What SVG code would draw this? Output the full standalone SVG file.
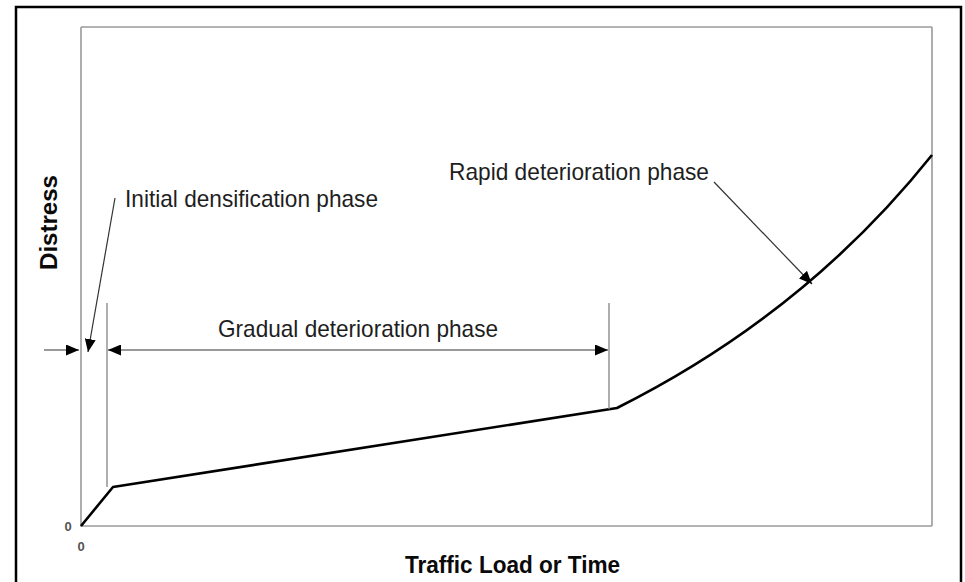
<svg xmlns="http://www.w3.org/2000/svg" width="965" height="582" viewBox="0 0 965 582">
  <style>
    .frame { fill: none; stroke: #000; stroke-width: 2.5; }
    .axis { fill: none; stroke: #9a9a9a; stroke-width: 1.6; }
    .guide { fill: none; stroke: #8c8c8c; stroke-width: 1.4; }
    .curve { fill: none; stroke: #000; stroke-width: 2.6; stroke-linejoin: round; }
    .leader { fill: none; stroke: #333; stroke-width: 1.2; }
    .dim { fill: none; stroke: #777; stroke-width: 1.6; }
    .label { font-family: "Liberation Sans", Arial, sans-serif; font-size: 23.8px; fill: #1e1e1e; }
    .title { font-family: "Liberation Sans", Arial, sans-serif; font-size: 24px; font-weight: bold; fill: #0a0a0a; }
    .tick { font-family: "Liberation Sans", Arial, sans-serif; font-size: 13px; font-weight: bold; fill: #555; }
  </style>
  <defs>
    <marker id="head" viewBox="0 0 13 11" refX="13" refY="5.5" markerWidth="13" markerHeight="11" markerUnits="userSpaceOnUse" orient="auto">
      <path d="M0,0 L13,5.5 L0,11 Z" fill="#000"/>
    </marker>
  </defs>

  <rect width="965" height="582" fill="#fff"/>

  <!-- outer border -->
  <rect class="frame" x="16" y="7" width="945" height="590"/>

  <!-- plot frame and axes -->
  <g id="axes">
    <path class="axis" d="M81,27 L932,27 M932,27 L932,526 M81,27 L81,526 L932,526"/>
    <text class="tick" x="68" y="531" text-anchor="middle">0</text>
    <text class="tick" x="81" y="551" text-anchor="middle">0</text>
  </g>

  <!-- distress curve -->
  <g id="distress-curve">
    <path class="curve" d="M81,526 L113,487 L617,408 Q805,314 932,155"/>
  </g>

  <!-- phase boundaries -->
  <g id="boundaries">
    <line class="guide" x1="107" y1="303" x2="107" y2="487"/>
    <line class="guide" x1="609" y1="303" x2="609" y2="409"/>
  </g>

  <!-- dimension arrows and leaders -->
  <g id="connectors">
    <line class="dim" x1="44" y1="350" x2="79" y2="350" marker-end="url(#head)"/>
    <line class="dim" x1="358" y1="350" x2="108" y2="350" marker-end="url(#head)"/>
    <line class="dim" x1="358" y1="350" x2="608" y2="350" marker-end="url(#head)"/>
    <line class="leader" x1="115" y1="198" x2="88" y2="352" marker-end="url(#head)"/>
    <line class="leader" x1="714" y1="182" x2="812" y2="284" marker-end="url(#head)"/>
  </g>

  <!-- labels -->
  <g id="label-initial">
    <text class="label" x="125" y="207" textLength="253" lengthAdjust="spacingAndGlyphs">Initial densification phase</text>
  </g>
  <g id="label-gradual">
    <text class="label" x="218" y="337" textLength="280" lengthAdjust="spacingAndGlyphs">Gradual deterioration phase</text>
  </g>
  <g id="label-rapid">
    <text class="label" x="449" y="180" textLength="260" lengthAdjust="spacingAndGlyphs">Rapid deterioration phase</text>
  </g>
  <g id="axis-titles">
    <text class="title" transform="translate(56.5,222.5) rotate(-90)" text-anchor="middle" textLength="95" lengthAdjust="spacingAndGlyphs">Distress</text>
    <text class="title" x="405" y="573" textLength="215" lengthAdjust="spacingAndGlyphs">Traffic Load or Time</text>
  </g>
</svg>
